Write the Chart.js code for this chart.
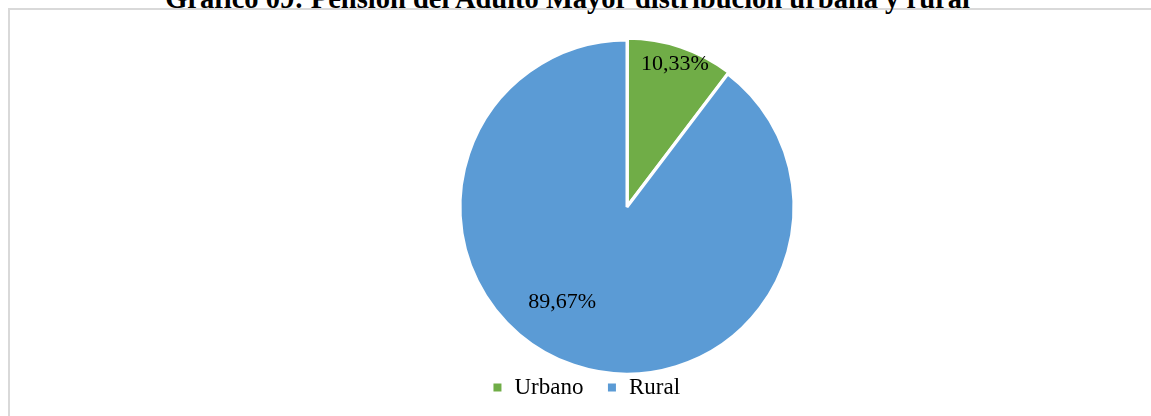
<!DOCTYPE html>
<html>
<head>
<meta charset="utf-8">
<script src="https://cdn.jsdelivr.net/npm/chart.js@4/dist/chart.umd.min.js"></script>
<style>
  html, body { margin: 0; padding: 0; background: #fff; }
  #wrap { position: relative; width: 1151px; height: 416px; overflow: hidden; }
  #frame { position: absolute; left: 8px; top: 8px; right: -10px; bottom: -10px; border: 2px solid #d9d9d9; }
  #title {
    position: absolute; left: 0; top: -15px; width: 1135px; text-align: center;
    font: bold 28.5px/28px "Liberation Serif", "Times New Roman", serif; color: #000; white-space: nowrap;
  }
  #box { position: absolute; left: 0; top: 0; width: 1151px; height: 416px; }
</style>
</head>
<body>
<div id="wrap">
  <div id="frame"></div>
  <div id="title"></div>
  <div id="box"><canvas id="myChart"></canvas></div>
</div>
<script>
  const titleText = 'Gráfico 09: Pensión del Adulto Mayor distribución urbana y rural';
  const labels = ['Urbano', 'Rural'];
  const values = [10.33, 89.67];
  const colors = ['#70ad47', '#5b9bd5'];

  // label placement: [fraction of radius, angle shift in degrees]
  const labelPlace = [[0.90, 0], [0.69, 15.6]];

  document.getElementById('title').textContent = titleText;

  const pctLabels = {
    id: 'pctLabels',
    afterDatasetsDraw(chart) {
      const ctx = chart.ctx;
      const meta = chart.getDatasetMeta(0);
      ctx.save();
      ctx.font = '22px "Liberation Serif", "Times New Roman", serif';
      ctx.fillStyle = '#000';
      ctx.textAlign = 'center';
      ctx.textBaseline = 'middle';
      meta.data.forEach((arc, i) => {
        const p = arc.getProps(['x', 'y', 'startAngle', 'endAngle', 'outerRadius'], true);
        const mid = (p.startAngle + p.endAngle) / 2 + labelPlace[i][1] * Math.PI / 180;
        const r = p.outerRadius * labelPlace[i][0];
        const txt = values[i].toFixed(2).replace('.', ',') + '%';
        ctx.fillText(txt, p.x + Math.cos(mid) * r, p.y + Math.sin(mid) * r);
      });
      ctx.restore();
    }
  };

  // move the plot area right of the legend centre, as in the original
  const shiftPlot = {
    id: 'shiftPlot',
    afterLayout(chart) {
      chart.chartArea.left += 82;
    }
  };

  const data = {
    labels: labels,
    datasets: [{
      data: values,
      backgroundColor: colors,
      borderColor: '#ffffff',
      borderWidth: 3,
      offset: [5, 0],
      hoverOffset: 0
    }]
  };

  const config = {
    type: 'pie',
    data: data,
    plugins: [pctLabels, shiftPlot],
    options: {
      responsive: true,
      maintainAspectRatio: false,
      animation: false,
      radius: 167,
      layout: { padding: { left: 21, top: 61, bottom: 7 } },
      plugins: {
        title: { display: false },
        legend: {
          position: 'bottom',
          labels: {
            color: '#000',
            font: { family: '"Liberation Serif", "Times New Roman", serif', size: 23 },
            boxWidth: 11,
            boxHeight: 11,
            padding: 23
          }
        },
        tooltip: { enabled: false }
      }
    }
  };

  new Chart(document.getElementById('myChart'), config);
</script>
</body>
</html>
